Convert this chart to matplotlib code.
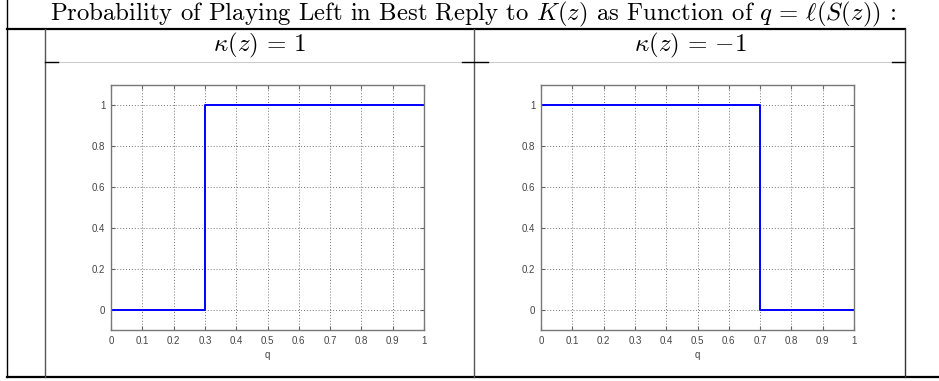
import matplotlib
matplotlib.use("Agg")
import matplotlib.pyplot as plt
from matplotlib.lines import Line2D

# data: best-reply step functions
q_k1 = [0, 0.3, 0.3, 1]
p_k1 = [0, 0, 1, 1]
q_km1 = [0, 0.7, 0.7, 1]
p_km1 = [1, 1, 0, 0]
x_ticks = [0, 0.1, 0.2, 0.3, 0.4, 0.5, 0.6, 0.7, 0.8, 0.9, 1]
x_labels = ['0', '0.1', '0.2', '0.3', '0.4', '0.5', '0.6', '0.7', '0.8', '0.9', '1']
y_ticks = [0, 0.2, 0.4, 0.6, 0.8, 1]
y_labels = ['0', '0.2', '0.4', '0.6', '0.8', '1']

plt.rcParams['mathtext.fontset'] = 'cm'
plt.rcParams['axes.unicode_minus'] = False

W, H = 939, 381
fig = plt.figure(figsize=(W / 100, H / 100), dpi=100)


def px(x, y):
    return x / W, 1 - y / H


def hline(x0, x1, y, color='black', lw=1.0):
    a, b = px(x0, y)
    c, _ = px(x1, y)
    fig.add_artist(Line2D([a, c], [b, b], transform=fig.transFigure, color=color, lw=lw))


def vline(x, y0, y1, color='black', lw=1.0):
    a, b = px(x, y0)
    _, d = px(x, y1)
    fig.add_artist(Line2D([a, a], [b, d], transform=fig.transFigure, color=color, lw=lw))


# table frame
vline(7, 0, 377)
hline(7, 905, 29, lw=1.6)
hline(7, 939, 377, lw=1.6)
vline(45, 29, 377, color='#555555')
vline(474, 29, 377, color='#555555')
vline(905, 29, 377, color='#333333')
hline(45, 905, 62, color='#cccccc', lw=0.8)
hline(45, 58, 62)
hline(462, 488, 62)
hline(892, 905, 62)

# header texts
tx, ty = px(473, 14)
fig.text(tx, ty, r"Probability of Playing Left in Best Reply to $K(z)$ as Function of $q\,=\,\ell(S(z))$ :",
         family='cmr10', fontsize=17.8, ha='center', va='center')
tx, ty = px(260, 45)
fig.text(tx, ty, r"$\kappa(z)\,=\,1$", fontsize=18, ha='center', va='center')
tx, ty = px(690, 45)
fig.text(tx, ty, r"$\kappa(z)\,=\,{-1}$", fontsize=18, ha='center', va='center')

# the two plots
panels = [(111, q_k1, p_k1), (541, q_km1, p_km1)]
for left, q, p in panels:
    x0, y0 = px(left, 330)
    ax = fig.add_axes([x0, y0, 313 / W, 245 / H])
    ax.plot(q, p, color='#0000ff', lw=1.4)
    ax.set_xlim(0, 1)
    ax.set_ylim(-0.1, 1.1)
    ax.set_xticks(x_ticks)
    ax.set_xticklabels(x_labels)
    ax.set_yticks(y_ticks)
    ax.set_yticklabels(y_labels)
    ax.grid(True, linestyle=(0, (1, 2)), color='#777777', lw=0.7)
    ax.tick_params(direction='in', length=3, width=0.8, colors='#666666',
                   labelcolor='#444444', labelsize=7, top=True, right=True, pad=4)
    for lab in ax.get_xticklabels() + ax.get_yticklabels():
        lab.set_family('Liberation Sans')
    for s in ax.spines.values():
        s.set_color('#777777')
        s.set_linewidth(1.0)
    ax.set_xlabel('q', fontsize=7, color='#444444', labelpad=3, family='Liberation Sans')

fig.savefig('out.png', dpi=100)
